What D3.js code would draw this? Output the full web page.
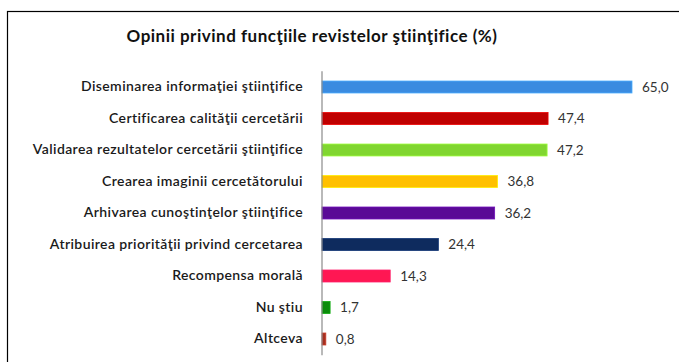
<!DOCTYPE html>
<html>
<head>
<meta charset="utf-8">
<script src="https://cdn.jsdelivr.net/npm/d3@7/dist/d3.min.js"></script>
<style>
  html, body { margin: 0; padding: 0; background: #fff; }
  svg { display: block; }
</style>
</head>
<body>
<svg id="chart" width="679" height="362"></svg>
<script>
// Survey answers: functions of scientific journals (%)
const title = "Opinii privind funcţiile revistelor ştiinţifice (%)";
const categories = [
  "Diseminarea informaţiei ştiinţifice",
  "Certificarea calităţii cercetării",
  "Validarea rezultatelor cercetării ştiinţifice",
  "Crearea imaginii cercetătorului",
  "Arhivarea cunoştinţelor ştiinţifice",
  "Atribuirea priorităţii privind cercetarea",
  "Recompensa morală",
  "Nu ştiu",
  "Altceva"
];
const values = [65.0, 47.4, 47.2, 36.8, 36.2, 24.4, 14.3, 1.7, 0.8];
const barColors = ["#3a8be0", "#c00000", "#80d630", "#ffc000", "#5a0a96",
                   "#0e2b5e", "#ff1753", "#0b8c0b", "#a53020"];

const svg = d3.select("#chart");
const width = 679, height = 362;
const margin = { left: 322, top: 71.25, bottom: 7.25 };
const font = "Lato, 'Open Sans', sans-serif";

// Frame around the chart area (runs off the right and bottom edges)
svg.append("rect")
  .attr("x", 7.5).attr("y", 11.5)
  .attr("width", 700).attr("height", 400)
  .attr("fill", "none").attr("stroke", "#000").attr("stroke-width", 1.2);

svg.append("text")
  .attr("x", 312).attr("y", 42)
  .attr("text-anchor", "middle")
  .attr("font-family", font)
  .attr("font-weight", "bold")
  .attr("font-size", 17)
  .attr("letter-spacing", 0.5)
  .attr("fill", "#111")
  .text(title);

const x = d3.scaleLinear().domain([0, 65]).range([margin.left, 632]);
const y = d3.scaleBand()
  .domain(categories)
  .range([margin.top, height - margin.bottom])
  .paddingInner(0.62)
  .paddingOuter(0.31);

// Bars
svg.append("g").selectAll("rect")
  .data(categories)
  .join("rect")
  .attr("x", x(0))
  .attr("y", d => y(d))
  .attr("width", (d, i) => x(values[i]) - x(0))
  .attr("height", y.bandwidth())
  .attr("fill", (d, i) => barColors[i])
  .attr("stroke", (d, i) => d3.color(barColors[i]).brighter(0.6))
  .attr("stroke-width", 0.8);

// Category axis
const axis = svg.append("g")
  .attr("transform", `translate(${x(0)},0)`)
  .call(d3.axisLeft(y).tickSize(0).tickPadding(19));
axis.select(".domain").attr("stroke", "#8a8a8a").attr("stroke-width", 1.2)
  .attr("d", `M0,${margin.top}V${height - margin.bottom + 0.5}`);
axis.selectAll("text")
  .attr("font-family", font)
  .attr("font-weight", 600)
  .attr("font-size", 14)
  .attr("letter-spacing", 0.4)
  .attr("fill", "#1a1a1a");

// Value labels
const fmt = v => v.toFixed(1).replace(".", ",");
svg.append("g").selectAll("text")
  .data(categories)
  .join("text")
  .attr("x", (d, i) => x(values[i]) + 10)
  .attr("y", d => y(d) + y.bandwidth() / 2)
  .attr("dy", "0.35em")
  .attr("font-family", font)
  .attr("font-size", 13.5)
  .attr("fill", "#333")
  .text((d, i) => fmt(values[i]));
</script>
</body>
</html>
